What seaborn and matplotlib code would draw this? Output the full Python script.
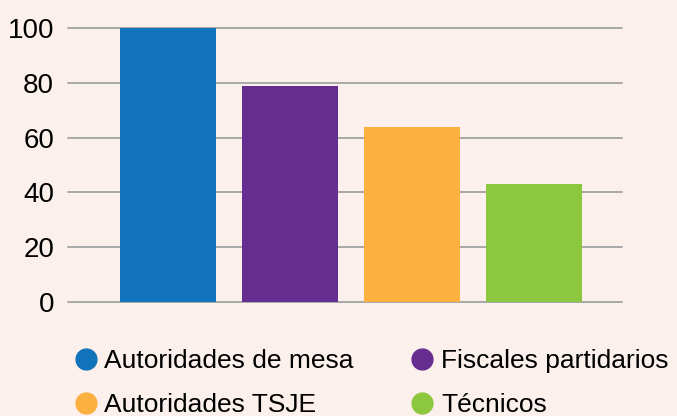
import matplotlib
matplotlib.use("Agg")
import matplotlib.pyplot as plt
from matplotlib.lines import Line2D
from matplotlib import font_manager
import seaborn as sns
import pandas as pd

categories = ["Autoridades de mesa", "Fiscales partidarios", "Autoridades TSJE", "Técnicos"]
values = [100, 79, 64, 43]
colors = ["#1174BB", "#652D90", "#FBB040", "#8DC63F"]
yticks = [0, 20, 40, 60, 80, 100]

sns.set_style("white")
names = {f.name for f in font_manager.fontManager.ttflist}
narrow = 'Liberation Sans Narrow' in names
plt.rcParams['font.family'] = (['Liberation Sans Narrow'] if narrow else []) + ['Liberation Sans', 'DejaVu Sans']
tick_fs = 23 if narrow else 20
leg_fs = 21 if narrow else 19

bg = "#FBF0EB"
fig = plt.figure(figsize=(6.77, 4.16), dpi=100, facecolor=bg)
ax = fig.add_axes([68/677, (416-302)/416, 554/677, (302-28)/416])
ax.set_facecolor(bg)

df = pd.DataFrame({"cat": categories, "val": values})
sns.barplot(data=df, x="cat", y="val", hue="cat", palette=colors, width=0.79,
            legend=False, ax=ax, zorder=3, saturation=1, linewidth=0)

ax.set_xlim(-0.82, 3.72)
ax.set_ylim(0, 100)
ax.set_yticks(yticks)
ax.set_yticklabels([str(t) for t in yticks], fontsize=tick_fs)
ax.set_xticks([])
ax.set_xlabel("")
ax.set_ylabel("")
ax.grid(axis="y", color="#A3A3A3", linewidth=1.3, zorder=0)
ax.set_axisbelow(True)
for s in ax.spines.values():
    s.set_visible(False)
ax.tick_params(axis="y", length=0, pad=10, labelcolor="#000000")
for gl in ax.get_ygridlines():
    gl.set_clip_on(False)

handles = [Line2D([0], [0], marker='o', linestyle='', markersize=15,
                  markerfacecolor=c, markeredgecolor=c) for c in colors]
order = [0, 2, 1, 3]
fig.legend([handles[i] for i in order], [categories[i] for i in order],
           loc="upper left", bbox_to_anchor=(70/677, 1 - 349/416),
           ncol=2, frameon=False, fontsize=leg_fs, handletextpad=0.1,
           columnspacing=2.6 if narrow else 2.0, labelspacing=0.65 if narrow else 0.75,
           handlelength=1.2, borderaxespad=0,
           borderpad=0, labelcolor="#000000")

fig.savefig("out.png", dpi=100, facecolor=bg)
